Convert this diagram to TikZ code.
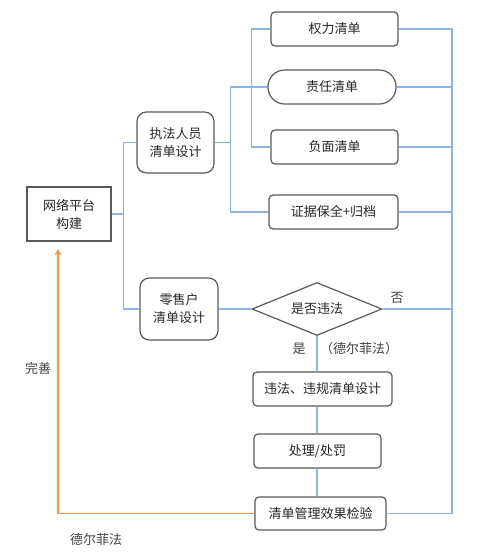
\documentclass[tikz,border=0pt]{standalone}
\usepackage{fontspec}
\newfontfamily\cjk{Noto Sans CJK SC}
\usetikzlibrary{shapes.geometric,arrows.meta}
\definecolor{linkblue}{RGB}{142,180,227}
\definecolor{fborange}{RGB}{247,150,70}
\definecolor{boxgray}{RGB}{89,89,89}
\definecolor{txtgray}{RGB}{64,64,64}
\begin{document}
\begin{tikzpicture}[x=0.75pt,y=0.75pt,yscale=-1,xscale=1,
  box/.style={draw=boxgray,line width=0.9pt,rounded corners=3pt,inner sep=0pt,align=center,
    text=black!85,font=\cjk\fontsize{9.75}{13.5}\selectfont},
  link/.style={draw=linkblue,line width=1.1pt},
  fb/.style={draw=fborange,line width=1.1pt},
  lbl/.style={inner sep=0.75pt,text=txtgray,font=\cjk\fontsize{9.75}{12}\selectfont}]
\useasboundingbox (0,0) rectangle (500,556);

%Shape: Rectangle
\node [box,rounded corners=0pt,minimum width=63pt,minimum height=40.5pt] (net) at (69,214) {网络平台\\构建};
%Shape: Rounded Rect
\node [box,rounded corners=7pt,minimum width=57.75pt,minimum height=45.75pt] (zf) at (175.5,142.5) {执法人员\\清单设计};
\node [box,rounded corners=7pt,minimum width=58.5pt,minimum height=46.5pt] (ls) at (179,309) {零售户\\清单设计};
\node [box,minimum width=95.25pt,minimum height=25.5pt] (ql) at (334.5,29) {权力清单};
\node [box,rounded corners=12.5pt,minimum width=96pt,minimum height=25.5pt] (zr) at (332,87) {责任清单};
\node [box,minimum width=95.25pt,minimum height=25.5pt] (fm) at (334.5,147) {负面清单};
\node [box,minimum width=96.75pt,minimum height=25.5pt] (zj) at (333.5,212) {证据保全+归档};
%Shape: Diamond
\node [box,diamond,rounded corners=0pt,aspect=2.45,minimum width=97.5pt,minimum height=39.75pt] (dia) at (317,309) {是否违法};
\node [box,minimum width=104.25pt,minimum height=25.5pt] (wf) at (322.5,389) {违法、违规清单设计};
\node [box,minimum width=95.25pt,minimum height=25.5pt] (cl) at (317.5,451) {处理/处罚};
\node [box,minimum width=98.25pt,minimum height=24.75pt] (jy) at (320.5,513.5) {清单管理效果检验};

%Straight Lines
\draw [link] (net.east) -- ++(12,0) coordinate (b1);
\draw [link] (zf.west) -| (b1) |- (ls.west);
\draw [link] (zf.east) -- ++(16,0) coordinate (b2);
\draw [link] (zr.west) -| (b2) |- (zj.west);
\draw [link] (ql.west) -- ++(-19,0) coordinate (b3) |- (fm.west);
\coordinate (rb) at (452,0);
\draw [link] (ql.east) -- (ql.east -| rb) -- (jy.east -| rb) -- (jy.east);
\draw [link] (zr.east) -- (zr.east -| rb);
\draw [link] (fm.east) -- (fm.east -| rb);
\draw [link] (zj.east) -- (zj.east -| rb);
\draw [link] (dia.east) -- (dia.east -| rb);
\draw [link] (ls.east) -- (dia.west);
\draw [link] (dia.south) -- (dia.south |- wf.north);
\draw [link] (dia.south |- wf.south) -- (dia.south |- cl.north);
\draw [link] (dia.south |- cl.south) -- (dia.south |- jy.north);
%Feedback
\coordinate (fbx) at (58,0);
\draw [fb,-{To[length=4pt,width=5pt]},shorten >=6pt] (jy.west) -| (fbx |- net.south);

% Text Node
\node [lbl] (ws) at (38,369) {完善};
\node [lbl] (df) at (96,540) {德尔菲法};
\node [lbl] (yes) at (299,349) {是};
\node [lbl] (dfb) at (359,349) {（德尔菲法）};
\node [lbl] (no) at (397,298) {否};
\end{tikzpicture}
\end{document}
